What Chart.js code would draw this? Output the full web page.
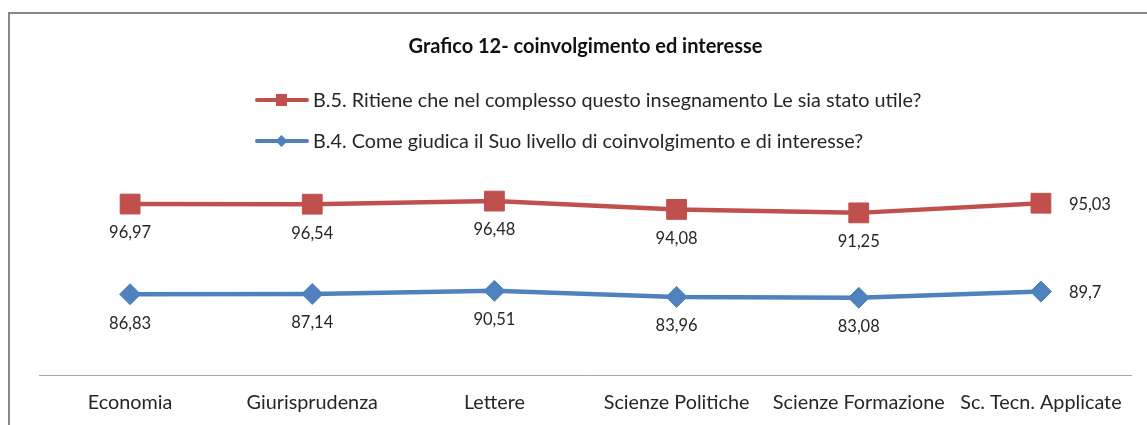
<!DOCTYPE html>
<html><head><meta charset="utf-8">
<script src="https://cdn.jsdelivr.net/npm/chart.js@4.4.1/dist/chart.umd.min.js"></script>
<style>html,body{margin:0;padding:0;background:#fff}#wrap{width:1147px;height:425px;position:relative}</style>
</head><body><div id="wrap"><canvas id="c" width="1147" height="425"></canvas></div>
<script>
const categories = ['Economia','Giurisprudenza','Lettere','Scienze Politiche','Scienze Formazione','Sc. Tecn. Applicate'];
const seriesB4 = [86.83, 87.14, 90.51, 83.96, 83.08, 89.7];
const seriesB5 = [96.97, 96.54, 96.48, 94.08, 91.25, 95.03];
const labelB4 = 'B.4. Come giudica il Suo livello di coinvolgimento e di interesse?';
const labelB5 = 'B.5. Ritiene che nel complesso questo insegnamento Le sia stato utile?';
const chartTitle = 'Grafico 12- coinvolgimento ed interesse';

const RED = '#C0504D', BLUE = '#4F81BD', TXT = '#262626', FONT = 'Lato';
const fmt = v => String(v).replace('.', ',');

const framePlugin = {
  id: 'frame',
  beforeDraw(chart) {
    const ctx = chart.ctx; ctx.save();
    ctx.strokeStyle = '#878787'; ctx.lineWidth = 2;
    ctx.beginPath(); ctx.moveTo(9, 426); ctx.lineTo(9, 13); ctx.lineTo(1148, 13); ctx.stroke();
    ctx.restore();
  }
};

const axisLinePlugin = {
  id: 'axisLine',
  afterDraw(chart) {
    const a = chart.chartArea, ctx = chart.ctx; ctx.save();
    ctx.strokeStyle = '#A6A6A6'; ctx.lineWidth = 1;
    ctx.beginPath(); ctx.moveTo(a.left, Math.round(a.bottom) + 0.5); ctx.lineTo(a.right, Math.round(a.bottom) + 0.5); ctx.stroke();
    ctx.restore();
  }
};

const legendPlugin = {
  id: 'customLegend',
  afterDraw(chart) {
    const ctx = chart.ctx; ctx.save();
    const order = [1, 0];
    const ys = [100, 141];
    order.forEach((di, row) => {
      const ds = chart.data.datasets[di];
      const y = ys[row];
      ctx.strokeStyle = ds.borderColor; ctx.lineWidth = 4; ctx.lineCap = 'round';
      ctx.beginPath(); ctx.moveTo(257, y); ctx.lineTo(307, y); ctx.stroke();
      ctx.fillStyle = ds.backgroundColor;
      if (ds.pointStyle === 'rect') { ctx.fillRect(276, y - 6, 11, 12); }
      else { ctx.beginPath(); ctx.moveTo(281.5 - 6, y); ctx.lineTo(281.5, y - 6); ctx.lineTo(281.5 + 6, y); ctx.lineTo(281.5, y + 6); ctx.closePath(); ctx.fill(); }
      ctx.fillStyle = TXT; ctx.font = '19.8px ' + FONT; ctx.textBaseline = 'middle'; ctx.textAlign = 'left';
      ctx.fillText(ds.label, 313, y + 1);
    });
    ctx.restore();
  }
};

const valueLabels = {
  id: 'valueLabels',
  afterDatasetsDraw(chart) {
    const ctx = chart.ctx; ctx.save();
    ctx.fillStyle = TXT; ctx.font = '16.5px ' + FONT;
    chart.data.datasets.forEach((ds, di) => {
      const meta = chart.getDatasetMeta(di);
      meta.data.forEach((pt, i) => {
        const last = i === meta.data.length - 1;
        if (last) { ctx.textAlign = 'left'; ctx.textBaseline = 'middle'; ctx.fillText(fmt(ds.data[i]), pt.x + 28, pt.y + 1); }
        else { ctx.textAlign = 'center'; ctx.textBaseline = 'middle'; ctx.fillText(fmt(ds.data[i]), pt.x, pt.y + 29); }
      });
    });
    ctx.restore();
  }
};

new Chart(document.getElementById('c'), {
  type: 'line',
  data: {
    labels: categories,
    datasets: [
      { label: labelB4, data: seriesB4, borderColor: BLUE, backgroundColor: BLUE, borderWidth: 4.5,
        pointStyle: 'rectRot', pointRadius: 10.5, pointBorderWidth: 1, pointBackgroundColor: BLUE, pointBorderColor: BLUE, tension: 0, fill: false },
      { label: labelB5, data: seriesB5, borderColor: RED, backgroundColor: RED, borderWidth: 4.5,
        pointStyle: 'rect', pointRadius: 14, pointBorderWidth: 1, pointBackgroundColor: RED, pointBorderColor: RED, tension: 0, fill: false }
    ]
  },
  options: {
    responsive: false, animation: false, devicePixelRatio: 1,
    layout: { padding: { left: 39, right: 15, top: 0, bottom: 10 } },
    plugins: {
      legend: { display: false },
      tooltip: { enabled: false },
      title: { display: true, text: chartTitle, color: '#111', font: { family: FONT, size: 20, weight: 'bold', lineHeight: 1.2 }, padding: { top: 35, bottom: 130 } }
    },
    scales: {
      x: { type: 'category', offset: true,
        afterFit: s => { s.height = 40; },
        grid: { display: false, drawTicks: false },
        border: { display: false },
        ticks: { color: TXT, font: { family: FONT, size: 19.8, lineHeight: 1.2 }, padding: 16, maxRotation: 0, autoSkip: false } },
      y: { display: false, stacked: true, min: 0, max: 200 }
    }
  },
  plugins: [framePlugin, axisLinePlugin, legendPlugin, valueLabels]
});
</script></body></html>
